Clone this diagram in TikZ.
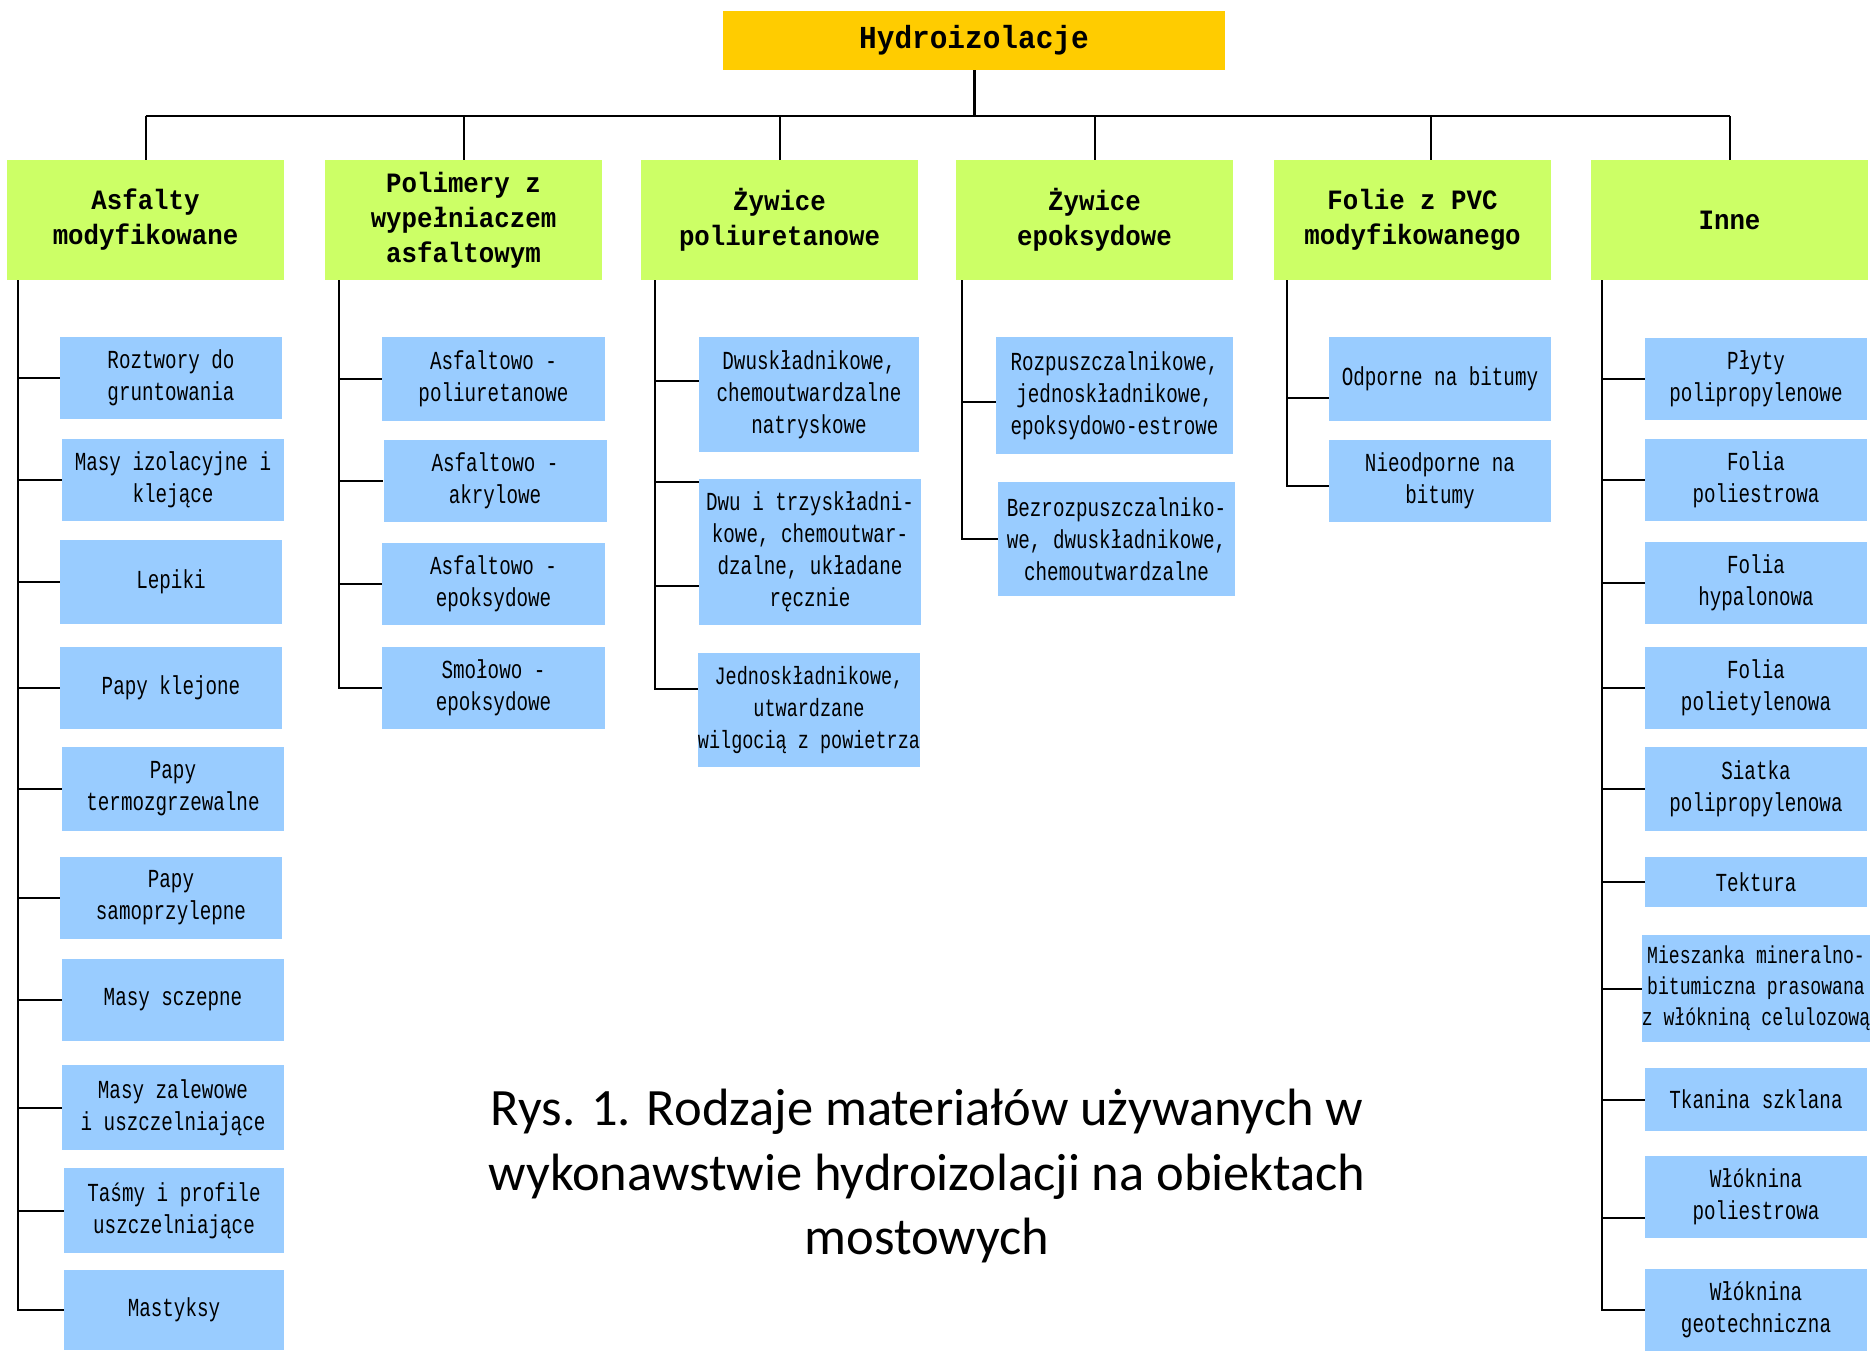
\documentclass[tikz,border=0pt]{standalone}
\usepackage{fontspec}
\usepackage{tikz}
\setmainfont{Carlito}
\newfontfamily\boxfont[FakeStretch=0.74]{Liberation Mono}
\newfontfamily\headfont[FakeStretch=0.92]{Liberation Mono}
\definecolor{RootYellow}{RGB}{255,204,0}
\definecolor{GroupGreen}{RGB}{204,255,102}
\definecolor{ItemBlue}{RGB}{153,204,255}

\begin{document}
\begin{tikzpicture}[
    x=1pt, y=-1pt,
    rootbox/.style={rectangle, fill=RootYellow, minimum width=502pt, minimum height=59pt, inner sep=0pt, align=center, font=\headfont\bfseries\fontsize{32}{36}\selectfont},
    groupbox/.style={rectangle, fill=GroupGreen, minimum width=277pt, minimum height=120pt, inner sep=0pt, align=center, font=\headfont\bfseries\fontsize{28}{35}\selectfont},
    itembox/.style={rectangle, fill=ItemBlue, minimum width=222pt, minimum height=82pt, inner sep=0pt, align=center, font=\boxfont\fontsize{26}{32}\selectfont},
    link/.style={draw=black, line width=2pt},
    caption/.style={align=center, font=\fontsize{52.5}{64.5}\selectfont}
]
\useasboundingbox (0,0) rectangle (1874,1350);

\node[rootbox] (root) at (974,40.5) {Hydroizolacje};
\node[groupbox] (g1) at (145.5,220) {Asfalty\\modyfikowane};
\node[groupbox] (g2) at (463.5,220) {Polimery z\\wypełniaczem\\asfaltowym};
\node[groupbox] (g3) at (779.5,220) {Żywice\\poliuretanowe};
\node[groupbox] (g4) at (1094.5,220) {Żywice\\epoksydowe};
\node[groupbox] (g5) at (1412.5,220) {Folie z PVC\\modyfikowanego};
\node[groupbox] (g6) at (1729.5,220) {Inne};

% asfalty
\node[itembox] (a1) at (171,377.5) {Roztwory do\\gruntowania};
\node[itembox] (a2) at (173,480) {Masy izolacyjne i\\klejące};
\node[itembox, minimum height=84pt] (a3) at (171,582) {Lepiki};
\node[itembox] (a4) at (171,687.5) {Papy klejone};
\node[itembox, minimum height=84pt] (a5) at (173,789) {Papy\\termozgrzewalne};
\node[itembox] (a6) at (171,898) {Papy\\samoprzylepne};
\node[itembox] (a7) at (173,1000) {Masy sczepne};
\node[itembox, minimum height=85pt] (a8) at (173,1107.5) {Masy zalewowe\\i uszczelniające};
\node[itembox, minimum width=220pt, minimum height=85pt] (a9) at (174,1210.5) {Taśmy i profile\\uszczelniające};
\node[itembox, minimum width=220pt, minimum height=80pt] (a10) at (174,1310) {Mastyksy};

% polimery
\node[itembox, minimum width=223pt, minimum height=84pt] (b1) at (493.5,379) {Asfaltowo -\\poliuretanowe};
\node[itembox, minimum width=223pt] (b2) at (495,480.5) {Asfaltowo -\\akrylowe};
\node[itembox, minimum width=223pt] (b3) at (493.5,584) {Asfaltowo -\\epoksydowe};
\node[itembox, minimum width=223pt] (b4) at (493.5,688) {Smołowo -\\epoksydowe};

% zywice poliuretanowe
\node[itembox, minimum width=220pt, minimum height=115pt] (c1) at (809,394.5) {Dwuskładnikowe,\\chemoutwardzalne\\natryskowe};
\node[itembox, minimum width=222pt, minimum height=146pt] (c2) at (810,552) {Dwu i trzyskładni-\\kowe, chemoutwar-\\dzalne, układane\\ręcznie};
\node[itembox, minimum width=220pt, minimum height=114pt, font=\boxfont\fontsize{25}{32}\selectfont] (c3) at (809,710) {Jednoskładnikowe,\\utwardzane\\wilgocią z powietrza};

% zywice epoksydowe
\node[itembox, minimum width=237pt, minimum height=117pt] (d1) at (1114.5,395.5) {Rozpuszczalnikowe,\\jednoskładnikowe,\\epoksydowo-estrowe};
\node[itembox, minimum width=237pt, minimum height=114pt] (d2) at (1116.5,539) {Bezrozpuszczalniko-\\we, dwuskładnikowe,\\chemoutwardzalne};

% folie z PVC
\node[itembox, minimum height=84pt] (e1) at (1440,379) {Odporne na bitumy};
\node[itembox] (e2) at (1440,481) {Nieodporne na\\bitumy};

% inne
\node[itembox] (f1) at (1756,378.5) {Płyty\\polipropylenowe};
\node[itembox] (f2) at (1756,480) {Folia\\poliestrowa};
\node[itembox] (f3) at (1756,582.5) {Folia\\hypalonowa};
\node[itembox] (f4) at (1756,687.5) {Folia\\polietylenowa};
\node[itembox, minimum height=84pt] (f5) at (1756,789) {Siatka\\polipropylenowa};
\node[itembox, minimum height=50pt] (f6) at (1756,882) {Tektura};
\node[itembox, minimum height=107pt, font=\boxfont\fontsize{24.5}{31}\selectfont] (f7) at (1756,988.5) {Mieszanka mineralno-\\bitumiczna prasowana\\z włókniną celulozową};
\node[itembox, minimum height=63pt] (f8) at (1756,1099.5) {Tkanina szklana};
\node[itembox] (f9) at (1756,1196.5) {Włóknina\\poliestrowa};
\node[itembox] (f10) at (1756,1309.5) {Włóknina\\geotechniczna};

\node[caption] (caption) at (927,1176) {Rys. 1. Rodzaje materiałów używanych w\\wykonawstwie hydroizolacji na obiektach\\mostowych};

% szyna
\coordinate (bus) at (974,116);
\coordinate (d5) at ([xshift=18pt]g5.north);
\draw[link, line width=3pt] (root.south) -- (root.south |- bus);
\draw[link, line width=2.5pt] (g1.north |- bus) -- (g6.north |- bus);
\draw[link] (g1.north |- bus) -- (g1.north);
\draw[link] (g2.north |- bus) -- (g2.north);
\draw[link] (g3.north |- bus) -- (g3.north);
\draw[link] (g4.north |- bus) -- (g4.north);
\draw[link] (d5 |- bus) -- (d5);
\draw[link] (g6.north |- bus) -- (g6.north);

% pnie
\coordinate (t1) at ([xshift=11pt]g1.south west);
\coordinate (t2) at ([xshift=14pt]g2.south west);
\coordinate (t3) at ([xshift=14pt]g3.south west);
\coordinate (t4) at ([xshift=6pt]g4.south west);
\coordinate (t5) at ([xshift=13pt]g5.south west);
\coordinate (t6) at ([xshift=11pt]g6.south west);

\draw[link] (t1) |- (a10.west);
\draw[link] (t1 |- a1.west) -- (a1.west);
\draw[link] (t1 |- a2.west) -- (a2.west);
\draw[link] (t1 |- a3.west) -- (a3.west);
\draw[link] (t1 |- a4.west) -- (a4.west);
\draw[link] (t1 |- a5.west) -- (a5.west);
\draw[link] (t1 |- a6.west) -- (a6.west);
\draw[link] (t1 |- a7.west) -- (a7.west);
\draw[link] (t1 |- a8.west) -- (a8.west);
\draw[link] (t1 |- a9.west) -- (a9.west);

\draw[link] (t2) |- (b4.west);
\draw[link] (t2 |- b1.west) -- (b1.west);
\draw[link] (t2 |- b2.west) -- (b2.west);
\draw[link] (t2 |- b3.west) -- (b3.west);

\coordinate (c1w) at ([yshift=14pt]c1.west);
\coordinate (c2n) at ([yshift=-3pt]c2.north west);
\coordinate (c2w) at ([yshift=-34pt]c2.west);
\coordinate (c3w) at ([yshift=21pt]c3.west);
\draw[link] (t3) |- (c3w);
\draw[link] (t3 |- c1w) -- (c1w);
\draw[link] (t3 |- c2n) -- (c2n);
\draw[link] (t3 |- c2w) -- (c2w);

\coordinate (d1w) at ([yshift=-6.5pt]d1.west);
\draw[link] (t4) |- (d2.west);
\draw[link] (t4 |- d1w) -- (d1w);

\coordinate (e1w) at ([yshift=-19pt]e1.west);
\coordinate (e2w) at ([yshift=-5pt]e2.west);
\draw[link] (t5) |- (e2w);
\draw[link] (t5 |- e1w) -- (e1w);

\coordinate (f9w) at ([yshift=-21pt]f9.west);
\draw[link] (t6) |- (f10.west);
\draw[link] (t6 |- f1.west) -- (f1.west);
\draw[link] (t6 |- f2.west) -- (f2.west);
\draw[link] (t6 |- f3.west) -- (f3.west);
\draw[link] (t6 |- f4.west) -- (f4.west);
\draw[link] (t6 |- f5.west) -- (f5.west);
\draw[link] (t6 |- f6.west) -- (f6.west);
\draw[link] (t6 |- f7.west) -- (f7.west);
\draw[link] (t6 |- f8.west) -- (f8.west);
\draw[link] (t6 |- f9w) -- (f9w);
\end{tikzpicture}
\end{document}
